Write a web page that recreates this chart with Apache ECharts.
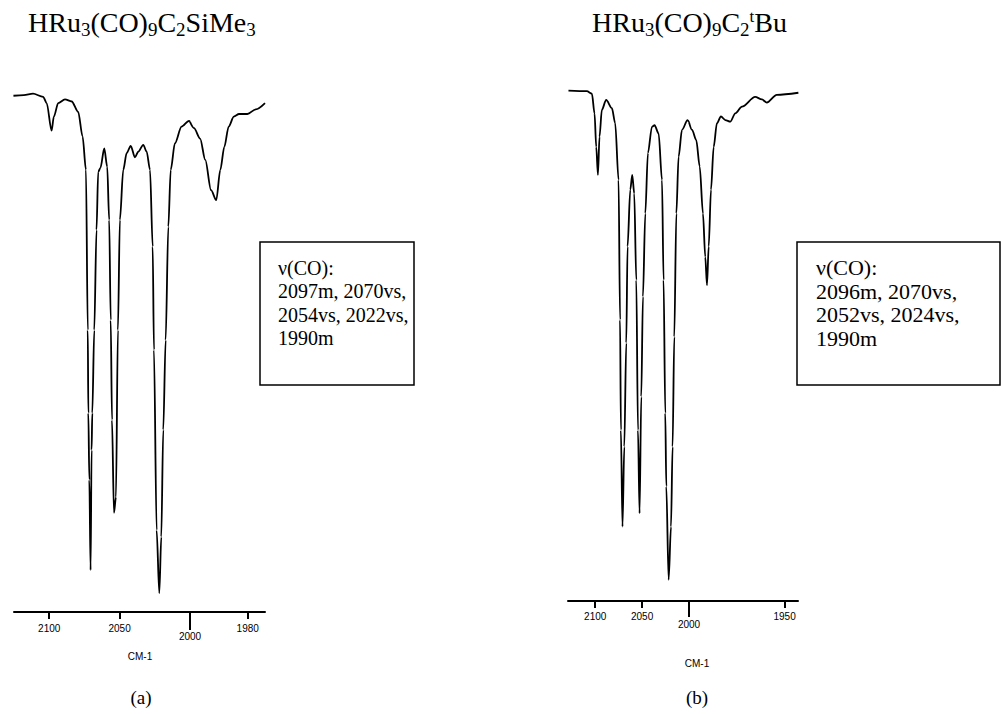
<!DOCTYPE html>
<html><head><meta charset="utf-8">
<script src="https://cdn.jsdelivr.net/npm/echarts@6/dist/echarts.min.js"></script>
<style>html,body{margin:0;padding:0;background:#fff}#c{width:1002px;height:714px}</style>
</head><body><div id="c"></div>
<script>
// Panel (a): HRu3(CO)9C2SiMe3 — wavenumber (cm-1) and relative transmittance
const aWave = [2125.4,2118,2111.5,2104.3,2101.8,2098.3,2096.7,2093.6,2088.8,2084,2079.4,2076.3,2073.9,2072.6,2072.2,2071.5,2070.6,2069.9,2069.4,2068.0,2066.4,2065.2,2063.6,2060.9,2058.8,2057.4,2056.3,2055.4,2054.0,2052.6,2051.2,2049.8,2047.4,2045,2042.1,2039.1,2036.7,2033.2,2030.8,2028.4,2026.5,2025.6,2023.7,2021.8,2020.4,2019,2017.3,2015.4,2013.7,2010.7,2006,2000.7,2000,1998.6,1996.5,1994.7,1992.7,1990.9,1989.5,1988.1,1986.6,1984.8,1983,1980.1,1977.2,1974];
const aTrans = [98.9,99.0,99.3,98.7,97.5,92.2,94.9,97.5,98.2,97.8,95.8,91.1,84.7,54.0,38.1,25.3,8.0,31.0,38.1,54.0,73.2,84.3,85.1,88.8,85.3,75.1,55.9,36.8,19.0,22.0,54.0,75.1,84.7,87.9,89.3,87.1,88.2,89.5,88.2,84.7,70.0,50.2,15.7,3.6,14.4,34.9,52.1,73.8,84.7,89.8,93.0,94.1,93.9,92.7,90.7,86.6,80.8,78.9,84.7,89.1,93.0,94.9,95.4,95.4,96.3,97.5];
// Panel (b): HRu3(CO)9C2tBu
const bWave = [2128.5,2108.9,2103.5,2100.7,2098.9,2097.1,2095.4,2092.9,2088.3,2082.2,2078.7,2075.1,2073.5,2072.6,2070.9,2069,2066.9,2065.5,2062.6,2060.5,2058.4,2056.2,2054.4,2052.7,2050.9,2049.1,2046.6,2043.8,2039.5,2036.7,2032.4,2028.8,2027.1,2025.3,2024.2,2021.7,2019.2,2017.5,2015.7,2013.5,2011.1,2007.5,2001.5,2000,1998.4,1996.2,1994.4,1992.7,1991.5,1990.6,1989.7,1988.5,1987.1,1985.4,1983.3,1981,1978.4,1975.8,1972.3,1965.4,1961.9,1959.3,1954.1,1942.8];
const bTrans = [98.9,98.8,98.3,94.5,88.0,82.6,90.0,95.2,97.1,95.5,92.6,81.6,54.5,33.1,14.4,29.9,50.0,68.7,79.7,82.6,79.0,62.2,33.1,17.0,39.6,59.0,75.1,86.8,91.9,92.2,90.6,81.6,62.2,36.4,22.2,4.1,14.4,29.9,51.2,75.1,86.1,91.3,93.2,92.8,91.3,89.3,84.2,75.1,66.7,61.2,68.7,79.7,88.0,92.6,93.9,93.2,92.9,94.5,95.8,97.7,97.2,96.6,98.1,98.5];
// Tick labels
const aTicksHigh = [2100, 2050];
const aTicksLow = [1980];
const bTicksHigh = [2100, 2050];
const bTicksLow = [1950];
const breakTick = 2000;
const axisTitle = 'CM-1';
const aBandLines = ['\u03bd(CO):', '2097m, 2070vs,', '2054vs, 2022vs,', '1990m'];
const bBandLines = ['\u03bd(CO):', '2096m, 2070vs,', '2052vs, 2024vs,', '1990m'];
const panelLabels = ['(a)', '(b)'];

function seg(w, t, hi) {
  const out = [];
  for (let i = 0; i < w.length; i++) {
    if (hi ? w[i] >= breakTick : w[i] <= breakTick) out.push([w[i], t[i]]);
  }
  return out;
}

const chart = echarts.init(document.getElementById('c'), null, {renderer: 'svg'});
const lineCol = '#000';
const sans = 'Liberation Sans, Arial, sans-serif';
const serif = 'Liberation Serif, Times New Roman, serif';

function xAx(grid, min, max, ticks, tickLen, margin, showLine) {
  return {
    type: 'value', gridIndex: grid, inverse: true, min: min, max: max,
    axisLine: {show: showLine, onZero: false, lineStyle: {color: lineCol, width: 2}},
    axisTick: {show: true, inside: false, length: tickLen, customValues: ticks, lineStyle: {color: lineCol, width: 2}},
    axisLabel: {show: true, customValues: ticks, margin: margin, color: '#000', fontFamily: sans, fontSize: 10,
      formatter: v => String(v)},
    splitLine: {show: false}
  };
}
function yAx(grid) {
  return {type: 'value', gridIndex: grid, min: 0, max: 100, show: false};
}

const grids = [
  {left: 14, top: 90, width: 176, height: 522},
  {left: 190, top: 90, width: 75, height: 522},
  {left: 190, top: 90, width: 75, height: 522},
  {left: 568, top: 85, width: 121, height: 516},
  {left: 689, top: 85, width: 109, height: 516},
  {left: 689, top: 85, width: 109, height: 516}
];

const lineSeries = (x, data) => ({
  type: 'line', xAxisIndex: x, yAxisIndex: x, data: data, showSymbol: false,
  smooth: 0.3, smoothMonotone: 'x', lineStyle: {color: lineCol, width: 1.8}, silent: true, animation: false
});

const subRich = {
  m: {fontFamily: serif, fontSize: 28, lineHeight: 30, verticalAlign: 'top', color: '#000'},
  s: {fontFamily: serif, fontSize: 19, lineHeight: 19, padding: [12, 0, 0, 0], verticalAlign: 'top', color: '#000'},
  p: {fontFamily: serif, fontSize: 17, lineHeight: 17, padding: [0, 0, 0, 0], verticalAlign: 'top', color: '#000'}
};

function bandText(x, y, lines, fs) {
  return {type: 'text', left: x, top: y, style: {text: lines.join('\n'), fontFamily: serif, fontSize: fs, lineHeight: 23.5, fill: '#000'}};
}

const option = {
  backgroundColor: '#fff',
  animation: false,
  grid: grids,
  xAxis: [
    xAx(0, 2000, 2125, aTicksHigh, 7, 11, true),
    xAx(1, 1974, 2000, aTicksLow, 7, 11, true),
    xAx(2, 1974, 2000, [breakTick], 18, 19, false),
    xAx(3, 2000, 2129, bTicksHigh, 7, 10, true),
    xAx(4, 1943, 2000, bTicksLow, 7, 10, true),
    xAx(5, 1943, 2000, [breakTick], 16, 18, false)
  ],
  yAxis: [yAx(0), yAx(1), yAx(2), yAx(3), yAx(4), yAx(5)],
  series: [
    lineSeries(0, seg(aWave, aTrans, true)),
    lineSeries(1, seg(aWave, aTrans, false)),
    lineSeries(3, seg(bWave, bTrans, true)),
    lineSeries(4, seg(bWave, bTrans, false))
  ],
  graphic: [
    {type: 'text', left: 28, top: 8, style: {text: '{m|HRu}{s|3}{m|(CO)}{s|9}{m|C}{s|2}{m|SiMe}{s|3}', rich: subRich}},
    {type: 'text', left: 592, top: 8, style: {text: '{m|HRu}{s|3}{m|(CO)}{s|9}{m|C}{s|2}{p|t}{m|Bu}', rich: subRich}},
    {type: 'rect', shape: {x: 260, y: 242, width: 154, height: 143}, style: {fill: 'none', stroke: '#000', lineWidth: 1.5}},
    {type: 'rect', shape: {x: 797, y: 242, width: 203, height: 143}, style: {fill: 'none', stroke: '#000', lineWidth: 1.5}},
    bandText(278, 256, aBandLines, 20),
    bandText(816, 256, bBandLines, 22),
    {type: 'text', x: 140, y: 656, style: {text: axisTitle, fontFamily: sans, fontSize: 10, fill: '#000', align: 'center', verticalAlign: 'middle'}},
    {type: 'text', x: 697, y: 663, style: {text: axisTitle, fontFamily: sans, fontSize: 10, fill: '#000', align: 'center', verticalAlign: 'middle'}},
    {type: 'text', x: 141, y: 697, style: {text: panelLabels[0], fontFamily: serif, fontSize: 19, fill: '#000', align: 'center', verticalAlign: 'middle'}},
    {type: 'text', x: 697, y: 697, style: {text: panelLabels[1], fontFamily: serif, fontSize: 19, fill: '#000', align: 'center', verticalAlign: 'middle'}}
  ]
};
chart.setOption(option);
</script></body></html>
